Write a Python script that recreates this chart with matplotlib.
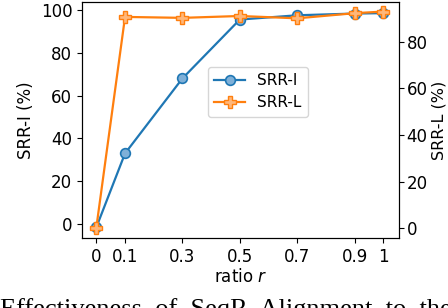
import matplotlib.pyplot as plt

ratio = [0, 0.1, 0.3, 0.5, 0.7, 0.9, 1]
ratio_labels = ['0', '0.1', '0.3', '0.5', '0.7', '0.9', '1']
srr_i = [-1.5, 33.0, 68.0, 95.5, 97.5, 98.3, 98.5]
srr_l = [0.3, 90.6, 90.2, 91.0, 90.0, 92.2, 92.9]

blue = '#1f77b4'
orange = '#ff7f0e'

fig = plt.figure(figsize=(4.48, 3.08), dpi=100)
ax = fig.add_axes([82/448, 1 - 238/308, 317/448, 236/308])
ax2 = ax.twinx()

l1, = ax.plot(ratio, srr_i, color=blue, lw=1.6, marker='o', ms=7,
              mfc='#7fb0d8', mec=blue, mew=1.2, label='SRR-I')
l2, = ax2.plot(ratio, srr_l, color=orange, lw=1.6, marker='P', ms=8,
               mfc='#ffb77a', mec=orange, mew=1.0, label='SRR-L')

ax.set_xlim(-0.05, 1.055)
ax.set_ylim(-6.5, 103.7)
ax2.set_ylim(-4.2, 97)
ax.set_yticks([0, 20, 40, 60, 80, 100])
ax2.set_yticks([0, 20, 40, 60, 80])
ax.set_xticks(ratio)
ax.set_xticklabels(ratio_labels)
ax.tick_params(labelsize=12)
ax2.tick_params(labelsize=12, pad=2)

ax.set_xlabel('ratio $r$', fontsize=12, labelpad=2)
ax.set_ylabel('SRR-I (%)', fontsize=12)
ax2.set_ylabel('SRR-L (%)', fontsize=11.5, labelpad=3)

ax.legend([l1, l2], ['SRR-I', 'SRR-L'], loc='center',
          bbox_to_anchor=(0.555, 0.62), fontsize=11)

# caption fragment, cut by the bottom edge as in the source
fig.text(0.0, 10/308, 'Effectiveness  of  SeqR  Alignment  to  the',
         family='Liberation Serif', fontsize=19, va='top', ha='left')

fig.savefig('out.png', dpi=100)
